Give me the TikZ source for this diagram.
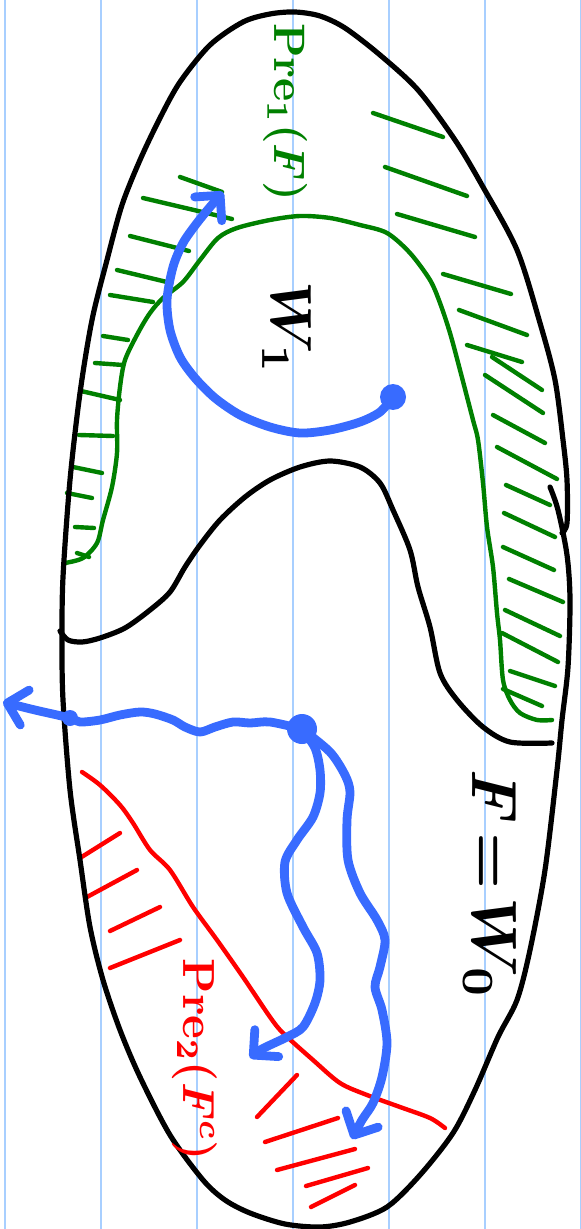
\documentclass[tikz,border=0pt]{standalone}
\usetikzlibrary{arrows.meta}
\definecolor{RuleClr}{rgb}{0.66,0.81,1}
\definecolor{WalkClr}{rgb}{0.22,0.42,1}
\definecolor{PreOneClr}{rgb}{0,0.5,0}
\definecolor{PreTwoClr}{rgb}{1,0,0}

\begin{document}
\begin{tikzpicture}[x=.5pt,y=-.5pt,line cap=round,line join=round,
  rule/.style={RuleClr,line width=.8pt},
  bound/.style={black,line width=2.6pt},
  hatchone/.style={PreOneClr,line width=2.2pt},
  hatchtwo/.style={PreTwoClr,line width=2.2pt},
  walk/.style={WalkClr,line width=4.4pt},
  walktip/.style={-{Straight Barb[length=9pt,width=18pt,round]}},
  lbl/.style={rotate=-90,inner sep=0pt,font=\boldmath}]

\useasboundingbox (0,0) rectangle (581,1229);
\fill[white] (0,0) rectangle (581,1229);
\foreach \x in {5,101,...,581} \draw[rule] (\x,0) -- (\x,1229);

\coordinate (dotW) at (393,397);
\coordinate (dotF) at (302,729);
\coordinate (dotE) at (70,718);
\coordinate (tipW) at (223,192);
\coordinate (tipOut) at (3,702);
\coordinate (tipA) at (250,1058);
\coordinate (tipB) at (352,1139);

\foreach \a/\b/\c/\d in {180/177/222/192,143/198/232/219,130/236/189/251,117/270/171/283,
  110/295/153/302,103/336/128/340,95/363/123/365,81/391/120/400,79/435/113/436,
  73/467/102/473,67/493/92/498,75/527/94/528,77/553/89/557,
  373/113/443/137,385/167/467/196,397/214/475/237,443/274/511/294,459/310/527/335,
  467/345/522/362,492/357/542/390,485/375/543/413,493/415/545/443,497/447/557/479,
  506/485/550/505,504/513/555/537,503/547/554/570,509/579/563/602,505/610/560/636,
  502/633/558/662,510/671/555/686,503/689/542/706}
  \draw[hatchone] (\a,\b) -- (\c,\d);

\draw[hatchone] plot[smooth] coordinates {(65,563) (83,558) (97,543) (103,520) (112,487)
  (117,453) (117,420) (120,387) (125,360) (138,333) (150,313) (163,298) (183,282) (200,260)
  (218,238) (237,228) (270,220) (300,216) (330,218) (360,225) (387,233) (410,253) (430,280)
  (440,303) (450,333) (460,370) (473,420) (478,440) (483,483) (487,527) (493,567) (497,613)
  (500,640) (503,680) (510,700) (520,713) (537,720) (552,720)};

\foreach \a/\b/\c/\d in {80/858/120/833,87/897/137/870,110/931/160/907,110/968/180/940,
  297/1075/257/1117,338/1118/265/1142,355/1149/277/1170,368/1168/306/1186,355/1185/311/1207}
  \draw[hatchtwo] (\a,\b) -- (\c,\d);

\draw[hatchtwo] plot[smooth] coordinates {(82,772) (100,785) (120,805) (133,823) (150,850)
  (170,870) (193,907) (217,940) (243,977) (270,1017) (283,1033) (313,1060) (340,1083)
  (367,1095) (400,1107) (430,1118) (445,1128)};

\draw[bound] plot[smooth] coordinates {(550,487) (558,510) (567,555) (570,600) (568,667)
  (562,720) (557,770) (545,870) (530,950) (517,1000) (498,1037) (475,1090) (453,1133)
  (420,1175) (387,1207) (350,1222) (320,1227) (285,1224) (250,1213) (225,1200) (203,1180)
  (170,1135) (140,1077) (120,1030) (103,980) (90,927) (80,860) (70,790) (63,700) (62,640)
  (63,577) (70,480) (80,393) (92,320) (107,260) (122,205) (140,160) (160,118) (180,82)
  (210,45) (243,22) (270,14) (295,12) (320,16) (345,28) (380,55) (418,90) (455,140)
  (483,187) (517,250) (540,323) (555,380) (563,440) (567,480) (567,523) (562,533)};

\draw[bound] plot[smooth] coordinates {(60,631) (68,640) (82,642) (100,638) (125,628)
  (150,610) (170,592) (185,567) (200,545) (220,520) (245,497) (270,480) (300,467) (330,461)
  (360,467) (380,483) (393,510) (410,550) (418,587) (430,627) (440,673) (457,700) (483,727)
  (510,742) (552,743)};

\draw[walk,walktip] plot[smooth] coordinates {(dotW) (380,412) (360,422) (330,430) (300,433)
  (270,427) (240,415) (215,398) (195,378) (180,357) (170,330) (167,300) (173,267) (183,243)
  (197,223) (210,207) (tipW)};
\draw[walk,walktip] plot[smooth] coordinates {(dotF) (270,722) (250,723) (233,722) (215,727)
  (200,732) (185,727) (173,720) (155,714) (140,712) (120,715) (100,720) (80,722) (dotE)
  (35,710) (tipOut)};
\draw[walk,walktip] plot[smooth] coordinates {(dotF) (315,748) (320,770) (320,793) (313,817)
  (297,840) (285,862) (287,893) (303,927) (317,953) (320,980) (315,1003) (303,1027)
  (287,1037) (262,1049) (tipA)};
\draw[walk,walktip] plot[smooth] coordinates {(dotF) (330,752) (345,775) (350,792) (347,820)
  (348,860) (360,893) (377,920) (385,940) (380,967) (375,987) (382,1010) (387,1043)
  (382,1077) (373,1103) (362,1120) (tipB)};

\fill[WalkClr] (dotW) circle (13);
\fill[WalkClr] (dotF) circle (15);
\fill[WalkClr] (dotE) circle (8);

\node[lbl,PreOneClr,scale=2.2] (preone) at (285,112) {$\mathrm{Pre}_1(F)$};
\node[lbl,PreTwoClr,scale=2.25] (pretwo) at (195,1060) {$\mathrm{Pre}_2(F^c)$};
\node[lbl,scale=2.9] (wone) at (287,328) {$W_1$};
\node[lbl,scale=3.2] (wzero) at (490,885) {$F\!=\!W_0$};

\end{tikzpicture}
\end{document}
